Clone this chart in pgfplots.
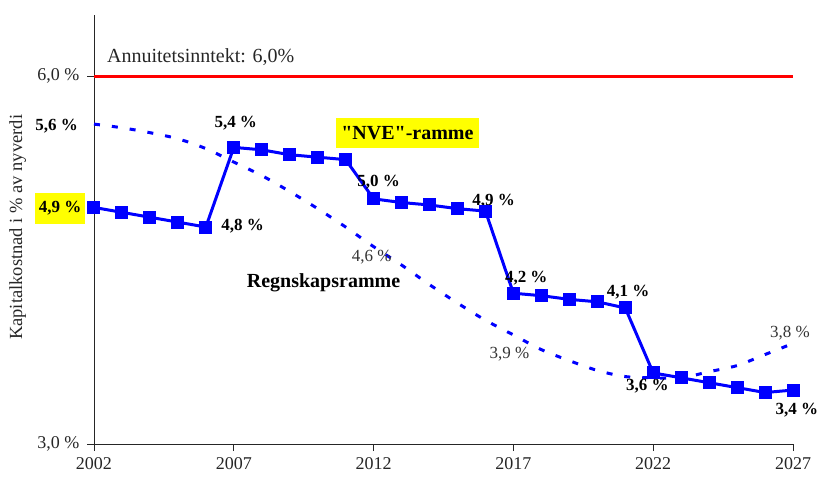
\documentclass[border=0pt]{standalone}
\usepackage{pgfplots}
\pgfplotsset{compat=1.18}
\usepackage{fontspec}
\setmainfont{Liberation Serif}
\newfontfamily\qfont{Liberation Serif}
\definecolor{myblue}{RGB}{0,0,255}
\definecolor{myred}{RGB}{255,0,0}
\definecolor{myyellow}{RGB}{255,255,0}
\begin{document}
\begin{tikzpicture}
\begin{axis}[
  at={(0,0)}, anchor=south west,
  scale only axis,
  width=699pt, height=429pt,
  xmin=2002, xmax=2027, ymin=3, ymax=6.5,
  axis x line*=bottom, axis y line*=left,
  axis line style={black!85, line width=0.8pt},
  tick style={black!85, line width=0.8pt},
  tick align=outside, major tick length=7pt,
  xtick={2002,2007,2012,2017,2022,2027},
  xticklabels={2002,2007,2012,2017,2022,2027},
  ytick={3,6},
  yticklabels={{3,0 \%},{6,0 \%}},
  ticklabel style={font=\fontsize{18}{20}\selectfont, text=black!85},
  xticklabel style={yshift=-3pt},
  yticklabel style={xshift=-4pt},
  ylabel={Kapitalkostnad i \% av nyverdi},
  ylabel style={at={(axis description cs:-0.109,0.505)}, anchor=center, font=\fontsize{18.5}{20}\selectfont, text=black!85},
  clip=false,
]
% Regnskapsramme (dotted)
\addplot[myblue, line width=3pt, dash pattern=on 6pt off 12pt, smooth] coordinates {
(2002,5.61) (2003,5.58) (2004,5.54) (2005,5.49) (2006,5.41) (2007,5.30)
(2008,5.19) (2009,5.06) (2010,4.92) (2011,4.77) (2012,4.61) (2013,4.46)
(2014,4.30) (2015,4.15) (2016,4.01) (2017,3.89) (2018,3.77) (2019,3.68)
(2020,3.60) (2021,3.55) (2022,3.54) (2023,3.54) (2024,3.59) (2025,3.64)
(2026,3.73) (2027,3.82)};
% NVE-ramme
\addplot[myblue, line width=3pt, mark=square*, mark size=5pt, mark options={solid, fill=myblue}] coordinates {
(2002,4.93) (2003,4.89) (2004,4.85) (2005,4.81) (2006,4.77)
(2007,5.42) (2008,5.40) (2009,5.36) (2010,5.34) (2011,5.32)
(2012,5.00) (2013,4.97) (2014,4.95) (2015,4.92) (2016,4.90)
(2017,4.23) (2018,4.21) (2019,4.18) (2020,4.16) (2021,4.11)
(2022,3.58) (2023,3.54) (2024,3.50) (2025,3.46) (2026,3.42) (2027,3.44)};
% Annuitetsinntekt
\addplot[myred, line width=3pt] coordinates {(2002,6) (2027,6)};

\tikzset{lab/.style={font=\fontsize{17}{19}\selectfont\bfseries, text=black, inner sep=0pt},
         reg/.style={font=\fontsize{17}{19}\selectfont, text=black!80, inner sep=0pt}}
\node[anchor=west, font=\fontsize{20}{22}\selectfont, text=black!85, inner sep=0pt] at (axis cs:2002.46,6.155) {Annuitetsinntekt: 6,0\%};
\node[lab, anchor=east] at (axis cs:2001.43,5.59) {5,6 \%};
\node[lab, fill=myyellow, inner xsep=3.5pt, minimum height=31pt] at (axis cs:2000.79,4.924) {4,9 \%};
\node[lab] at (axis cs:2007.07,5.617) {5,4 \%};
\node[lab] at (axis cs:2007.32,4.78) {4,8 \%};
\node[font=\fontsize{20}{22}\qfont\bfseries, fill=myyellow, inner xsep=5pt, minimum height=30pt] at (axis cs:2013.21,5.535) {"NVE"-ramme};
\node[lab] at (axis cs:2012.18,5.136) {5,0 \%};
\node[lab] at (axis cs:2016.29,4.98) {4,9 \%};
\node[reg] at (axis cs:2011.93,4.525) {4,6 \%};
\node[font=\fontsize{20}{22}\selectfont\bfseries, inner sep=0pt] at (axis cs:2010.21,4.313) {Regnskapsramme};
\node[lab] at (axis cs:2017.46,4.354) {4,2 \%};
\node[lab] at (axis cs:2021.1,4.24) {4,1 \%};
\node[reg] at (axis cs:2016.86,3.734) {3,9 \%};
\node[lab] at (axis cs:2021.79,3.473) {3,6 \%};
\node[reg] at (axis cs:2026.89,3.905) {3,8 \%};
\node[lab] at (axis cs:2027.14,3.278) {3,4 \%};
\end{axis}
\pgfresetboundingbox
\useasboundingbox (-94pt,-35pt) rectangle (727pt,444pt);
\end{tikzpicture}
\end{document}
